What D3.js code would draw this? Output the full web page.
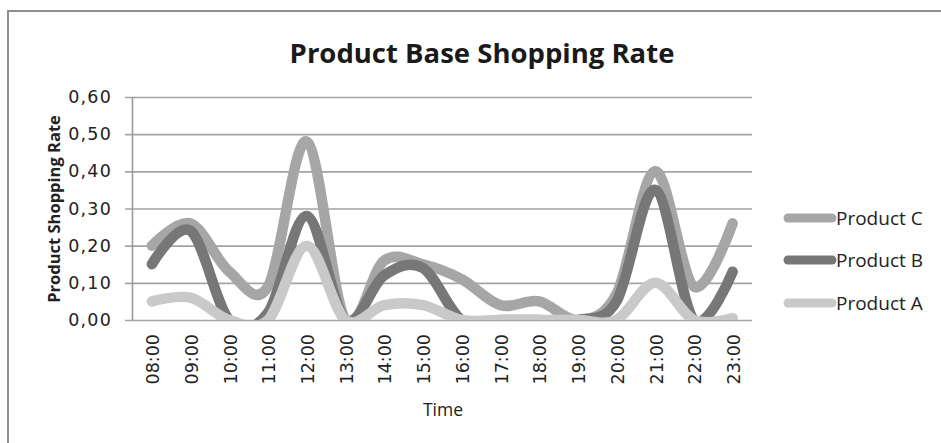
<!DOCTYPE html>
<html><head><meta charset="utf-8">
<script src="https://cdn.jsdelivr.net/npm/d3@7"></script>
<style>html,body{margin:0;padding:0;background:#fff;}svg{display:block;}</style>
</head><body>
<svg id="chart" width="941" height="443"></svg>
<script>
const times = ["08:00","09:00","10:00","11:00","12:00","13:00","14:00","15:00","16:00","17:00","18:00","19:00","20:00","21:00","22:00","23:00"];
const productC = [0.20,0.26,0.13,0.09,0.48,0.00,0.16,0.15,0.11,0.04,0.05,0.00,0.07,0.40,0.09,0.26];
const productB = [0.15,0.24,0.00,0.02,0.28,0.00,0.12,0.14,0.00,0.00,0.00,0.00,0.05,0.35,0.00,0.13];
const productA = [0.05,0.06,0.00,0.00,0.20,0.00,0.04,0.04,0.00,0.00,0.00,0.00,0.00,0.10,0.00,0.005];
const yTicks = [0,0.1,0.2,0.3,0.4,0.5,0.6];
const seriesNames = ["Product C","Product B","Product A"];
const seriesColors = ["#a6a6a6","#777777","#c9c9c9"];

const svg = d3.select("#chart");
const L = 132.5, R = 752, T = 97, B = 320;

// frame
svg.append("rect").attr("x",8).attr("y",11).attr("width",980).attr("height",480)
  .attr("fill","none").attr("stroke","#8e8e8e").attr("stroke-width",2);

const x = d3.scaleBand().domain(times).range([L,R]);
const y = d3.scaleLinear().domain([0,0.6]).range([B,T]);
const fmt = d => d.toFixed(2).replace(".", ",");

// y axis with gridlines
const ya = svg.append("g").attr("transform","translate(125,0)")
  .call(d3.axisLeft(y).tickValues(yTicks).tickFormat(fmt).tickSize(-(R-125)).tickPadding(13));
ya.select(".domain").remove();
ya.selectAll(".tick line").attr("stroke","#a3a3a3").attr("stroke-width",1.6);
ya.selectAll(".tick text").attr("font-family","DejaVu Sans").attr("font-size",17.5)
  .attr("letter-spacing","1.2px").attr("fill","#222");

// vertical axis line
svg.append("line").attr("x1",L).attr("x2",L).attr("y1",T).attr("y2",B)
  .attr("stroke","#9a9a9a").attr("stroke-width",1.6);

// x axis labels
const xa = svg.append("g").attr("transform",`translate(0,${B})`)
  .call(d3.axisBottom(x).tickSize(0).tickPadding(0));
xa.select(".domain").remove();
xa.selectAll(".tick text")
  .attr("font-family","DejaVu Sans").attr("font-size",17.5).attr("fill","#222")
  .attr("text-anchor","end")
  .attr("transform","translate(1,14) rotate(-90)")
  .attr("x",0).attr("y",0).attr("dy","0.36em");

// clip
svg.append("clipPath").attr("id","plotclip").append("rect")
  .attr("x",L-20).attr("y",T-20).attr("width",R-L+40).attr("height",B-T+20);

const line = d3.line()
  .x((d,i)=>x(times[i])+x.bandwidth()/2)
  .y(d=>y(d))
  .curve(d3.curveCatmullRom.alpha(0));

const data = [productC, productB, productA];
svg.append("g").attr("clip-path","url(#plotclip)")
  .selectAll("path").data(data).join("path")
  .attr("d", line)
  .attr("fill","none")
  .attr("stroke",(d,i)=>seriesColors[i])
  .attr("stroke-width",10.5)
  .attr("stroke-linecap","round")
  .attr("stroke-linejoin","round");

// title
svg.append("text").attr("x",482).attr("y",63).attr("text-anchor","middle")
  .attr("font-family","Open Sans").attr("font-weight","bold").attr("font-size",27.5)
  .attr("fill","#1a1a1a").text("Product Base Shopping Rate");

// axis titles
svg.append("text").attr("transform","translate(60,209) rotate(-90)").attr("text-anchor","middle")
  .attr("font-family","Open Sans").attr("font-weight","bold").attr("font-size",16.5)
  .attr("fill","#222").text("Product Shopping Rate");
svg.append("text").attr("x",443).attr("y",416).attr("text-anchor","middle")
  .attr("font-family","Open Sans").attr("font-size",17.5)
  .attr("fill","#222").text("Time");

// legend
const legY = [218, 260, 303];
const lg = svg.append("g").selectAll("g").data(seriesNames).join("g")
  .attr("transform",(d,i)=>`translate(0,${legY[i]})`);
lg.append("line").attr("x1",788).attr("x2",832).attr("y1",0).attr("y2",0)
  .attr("stroke",(d,i)=>seriesColors[i]).attr("stroke-width",9).attr("stroke-linecap","round");
lg.append("text").attr("x",836).attr("y",0).attr("dy","0.36em")
  .attr("font-family","Open Sans").attr("font-size",19).attr("fill","#222").text(d=>d);
</script>
</body></html>
